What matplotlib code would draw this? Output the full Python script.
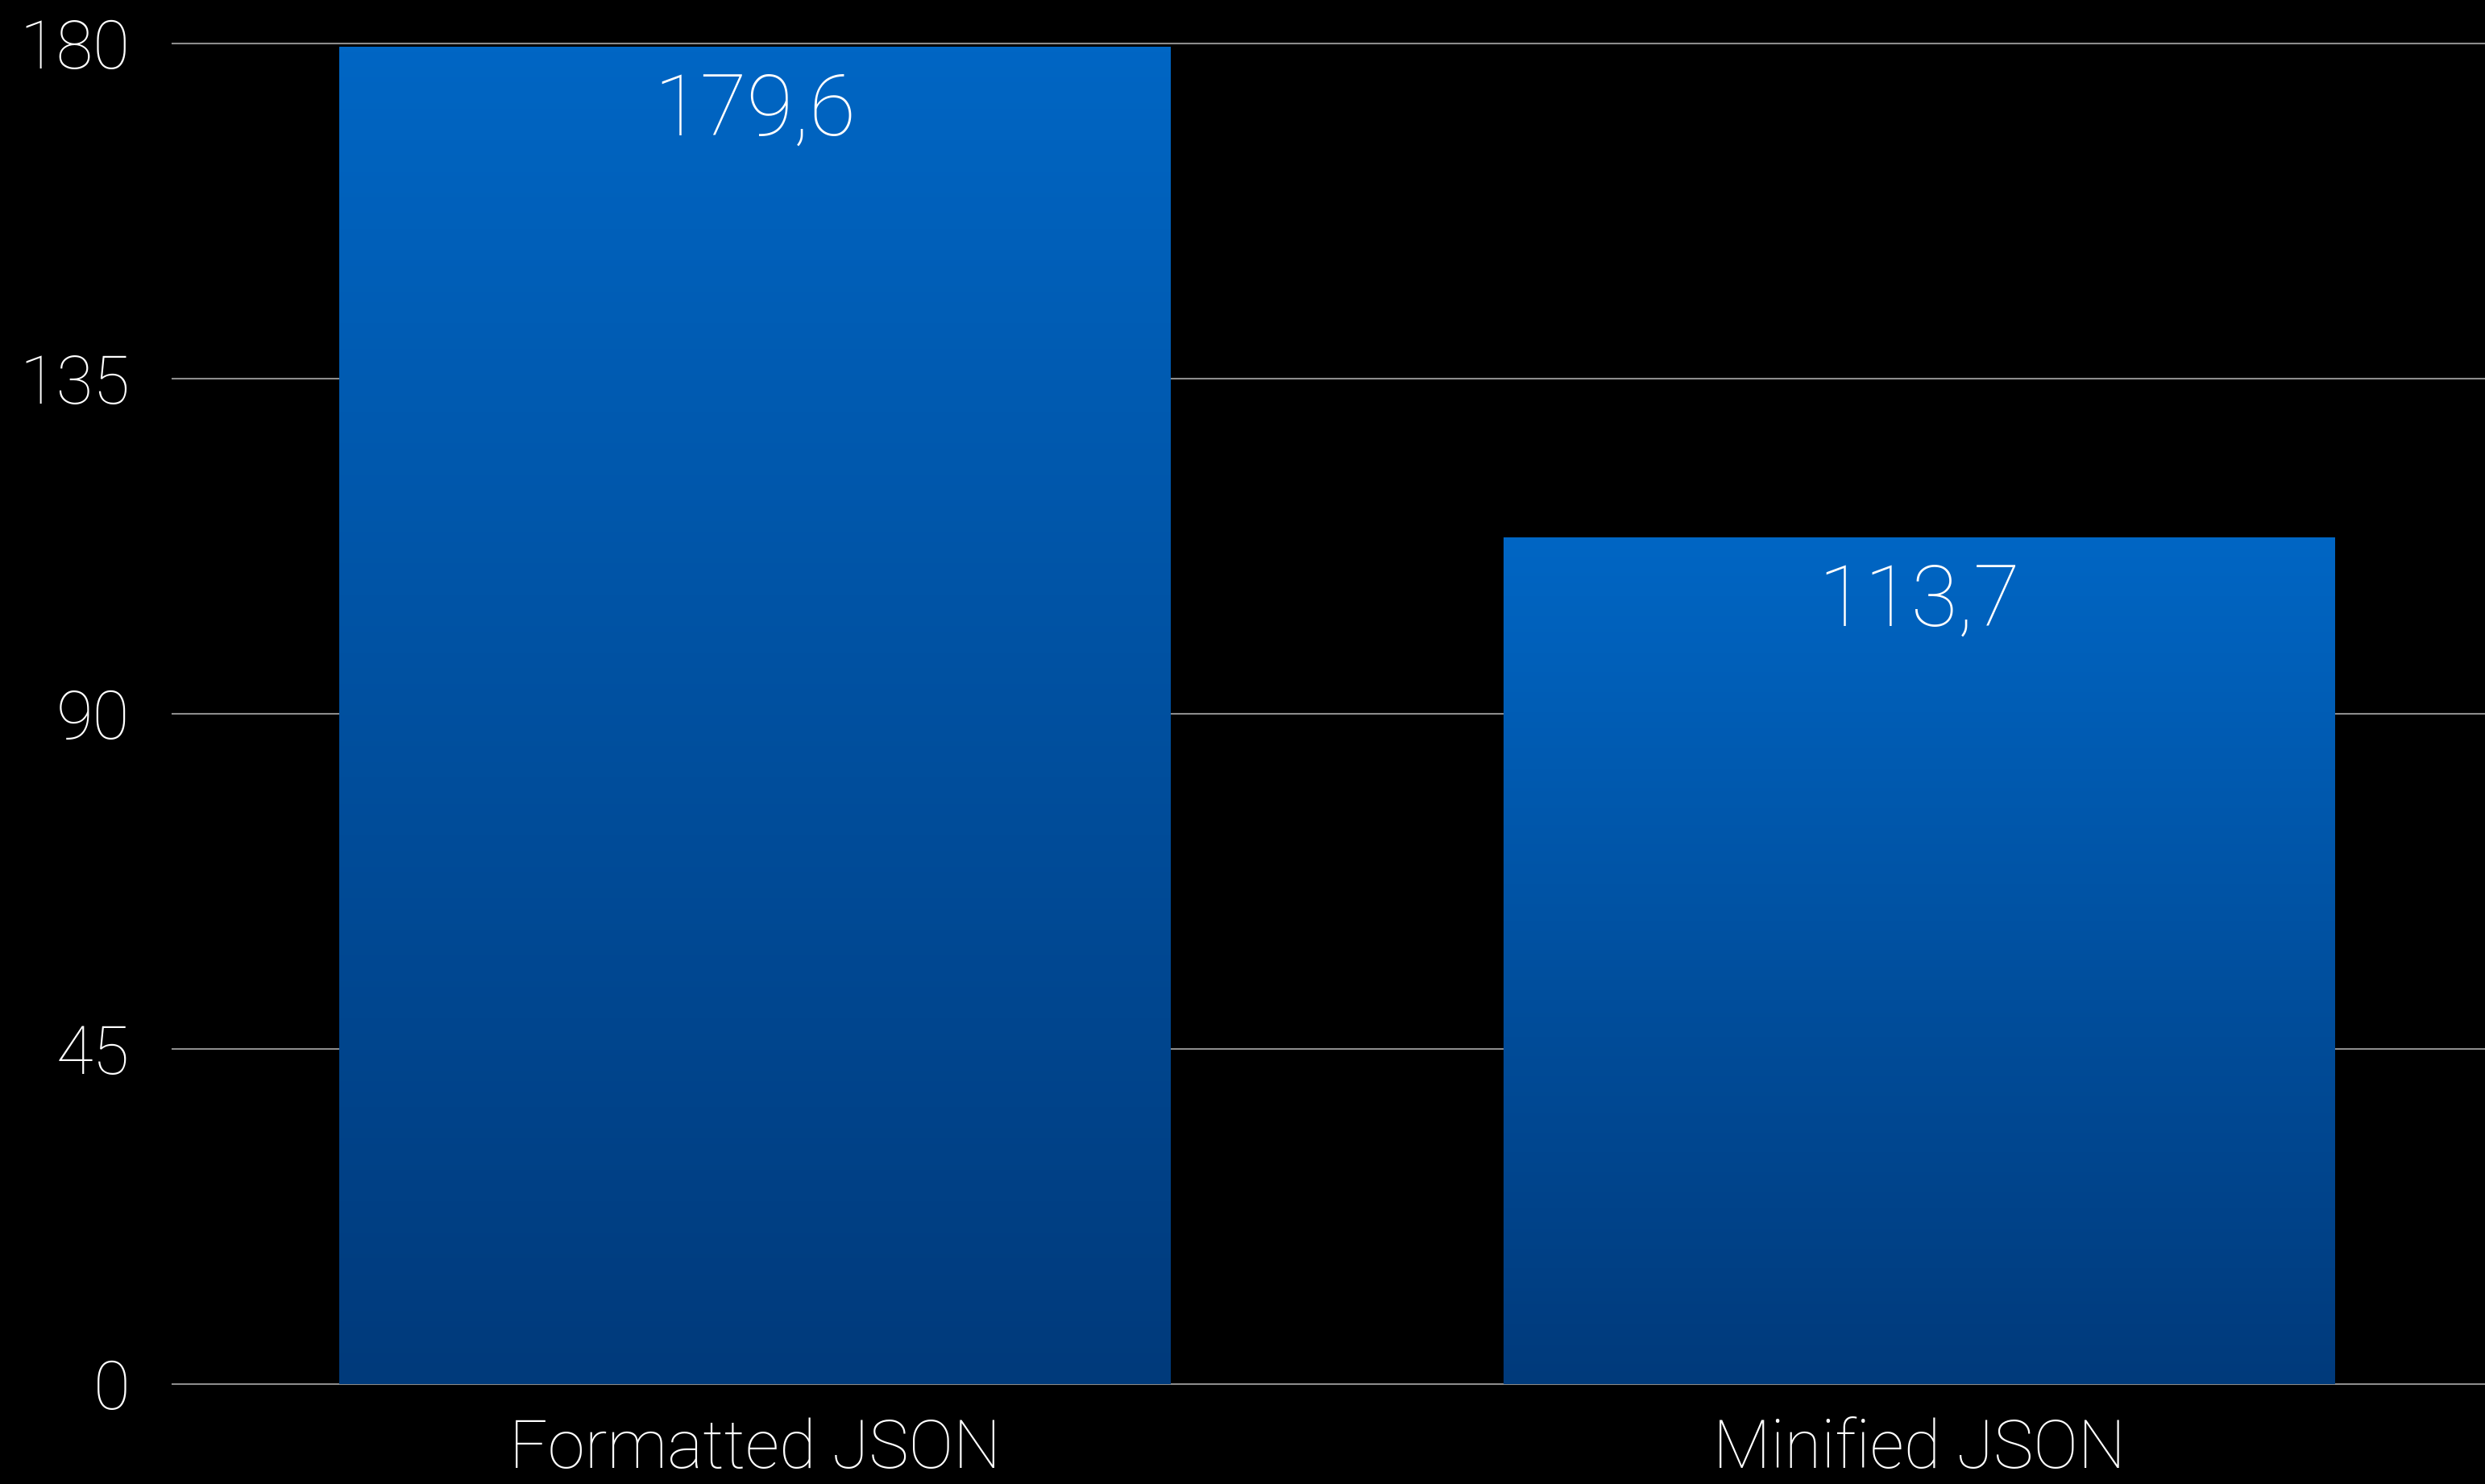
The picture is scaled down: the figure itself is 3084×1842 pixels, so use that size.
import numpy as np
import matplotlib
matplotlib.use("Agg")
import matplotlib.pyplot as plt
from matplotlib.colors import LinearSegmentedColormap

categories = ["Formatted JSON", "Minified JSON"]
values = [179.6, 113.7]
value_labels = ["179,6", "113,7"]
yticks = [0, 45, 90, 135, 180]

font = ["Roboto", "DejaVu Sans"]

fig = plt.figure(figsize=(30.84, 18.42), dpi=100, facecolor="black")
ax = fig.add_axes([0.0694, 0.0673, 0.9306, 0.9034])
ax.set_facecolor("black")

x = np.arange(len(categories))
width = 0.714
bars = ax.bar(x, values, width=width, color="none", zorder=2)

# vertical gradient in each bar, light at top, dark at bottom
cmap = LinearSegmentedColormap.from_list("blu", ["#003a7b", "#0066c4"])
grad = np.linspace(0, 1, 256).reshape(-1, 1)
for b in bars:
    x0, y0 = b.get_x(), b.get_y()
    im = ax.imshow(grad, cmap=cmap, origin="lower", aspect="auto",
                   extent=[x0, x0 + b.get_width(), y0, y0 + b.get_height()], zorder=2)
    im.set_clip_path(b)

for xi, v, lab in zip(x, values, value_labels):
    ax.annotate(lab, (xi, v), xytext=(0, -22), textcoords="offset points",
                ha="center", va="top", color="white", fontsize=76,
                family=font, fontweight="light", zorder=3)

ax.set_xlim(-0.5, 1.486)
ax.set_ylim(0, 180)
ax.set_yticks(yticks)
ax.set_yticklabels([str(t) for t in yticks], family=font,
                   fontweight="light", fontsize=60, color="white")
ax.set_xticks(x)
ax.set_xticklabels(categories, family=font,
                   fontweight="light", fontsize=60, color="white")
ax.tick_params(axis="y", length=0, pad=38)
ax.tick_params(axis="x", length=0, pad=30)
for s in ax.spines.values():
    s.set_visible(False)
for t in yticks:
    ax.axhline(t, color="#8c8c8c", lw=1.5, zorder=1, clip_on=False)

fig.savefig("out.png", dpi=100, facecolor="black")
